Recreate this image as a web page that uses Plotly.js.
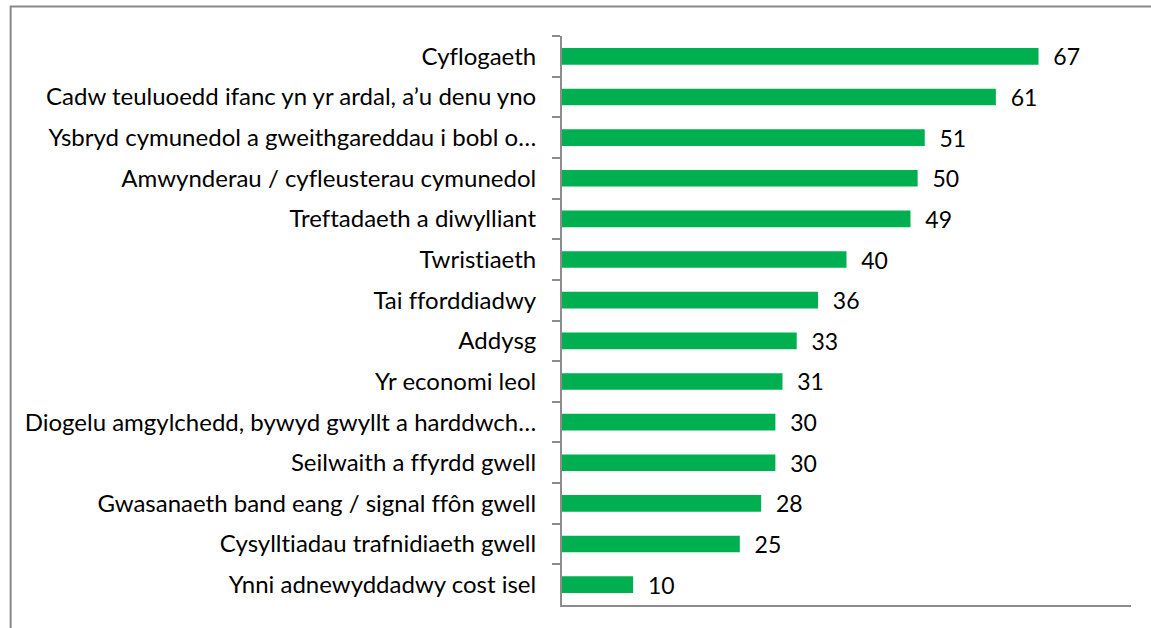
<!DOCTYPE html>
<html>
<head>
<meta charset="utf-8">
<script src="https://cdn.plot.ly/plotly-3.0.1.min.js"></script>
<style>
html,body{margin:0;padding:0;background:#fff;}
#chart{width:1151px;height:628px;}
#chart text{font-variant-ligatures:none;font-feature-settings:"liga" 0;}
</style>
</head>
<body>
<div id="chart"></div>
<script>
const categories = [
  "Cyflogaeth",
  "Cadw teuluoedd ifanc yn yr ardal, a’u denu yno",
  "Ysbryd cymunedol a gweithgareddau i bobl o…",
  "Amwynderau / cyfleusterau cymunedol",
  "Treftadaeth a diwylliant",
  "Twristiaeth",
  "Tai fforddiadwy",
  "Addysg",
  "Yr economi leol",
  "Diogelu amgylchedd, bywyd gwyllt a harddwch…",
  "Seilwaith a ffyrdd gwell",
  "Gwasanaeth band eang / signal ffôn gwell",
  "Cysylltiadau trafnidiaeth gwell",
  "Ynni adnewyddadwy cost isel"
];
const values = [67, 61, 51, 50, 49, 40, 36, 33, 31, 30, 30, 28, 25, 10];

const FONT = "Lato, 'Liberation Sans', sans-serif";

const trace = {
  type: "bar",
  orientation: "h",
  y: categories,
  x: values,
  width: 0.41,
  marker: {color: "#00B050"},
  text: values.map(v => String(v)),
  texttemplate: "\u00a0\u00a0%{text}",
  textposition: "outside",
  constraintext: "none",
  cliponaxis: false,
  textfont: {family: FONT, size: 23, color: "#000"},
  hoverinfo: "x+y"
};

const layout = {
  width: 1151,
  height: 628,
  margin: {l: 562, r: 20, t: 36, b: 23, pad: 0},
  paper_bgcolor: "#fff",
  plot_bgcolor: "#fff",
  showlegend: false,
  font: {family: FONT, size: 24, color: "#000"},
  xaxis: {
    range: [0, 80],
    showgrid: false,
    zeroline: false,
    showticklabels: false,
    ticks: "",
    showline: true,
    linecolor: "#8c8c8c",
    linewidth: 2,
    fixedrange: true
  },
  yaxis: {
    autorange: "reversed",
    showgrid: false,
    showline: true,
    linecolor: "#8c8c8c",
    linewidth: 2,
    ticks: "outside",
    tickson: "boundaries",
    ticklen: 8,
    tickwidth: 2,
    tickcolor: "#8c8c8c",
    ticklabelstandoff: 19,
    tickfont: {family: FONT, size: 24, color: "#000"},
    fixedrange: true
  },
  shapes: [{
    type: "rect",
    xref: "paper", yref: "paper",
    x0: -0.969, x1: 1.2,
    y0: -0.2, y1: 1.0518,
    line: {color: "#898989", width: 2},
    fillcolor: "rgba(0,0,0,0)"
  }]
};

Plotly.newPlot("chart", [trace], layout, {displayModeBar: false, staticPlot: true});
</script>
</body>
</html>
